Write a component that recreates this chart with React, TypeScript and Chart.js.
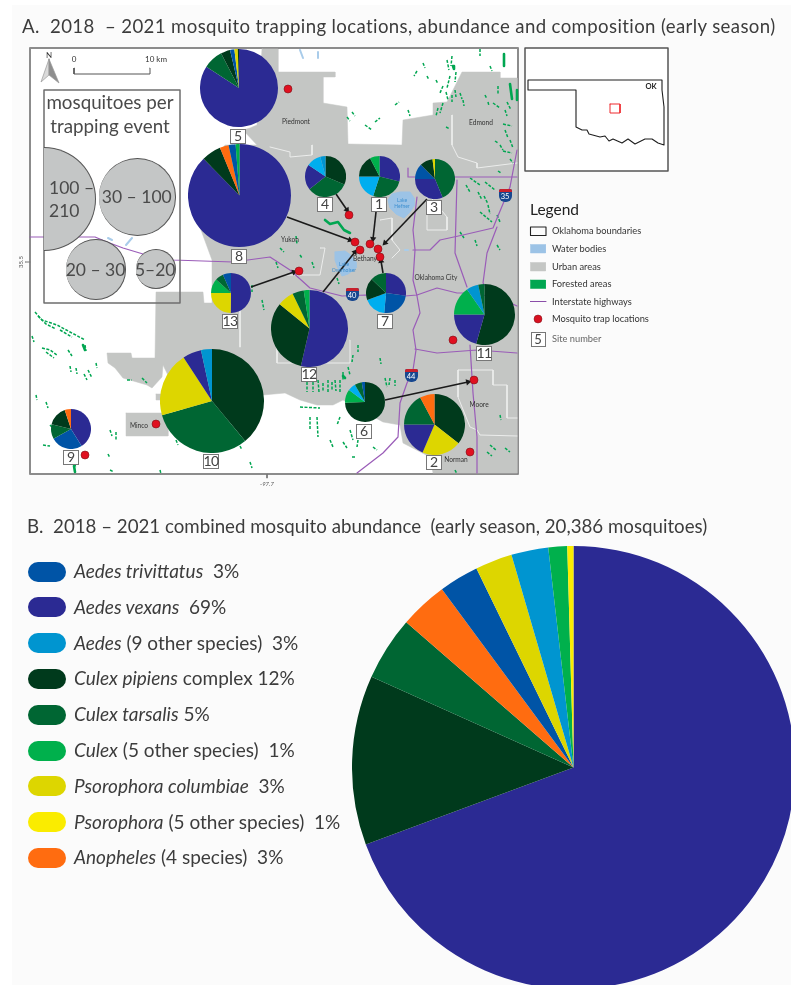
import React, { useEffect, useRef } from "react";
import { Chart, registerables } from "chart.js";
Chart.register(...registerables);

/* ---------- colours ---------- */
const C: Record<string, string> = {
  triv: "#0054A6", vex: "#2B2A93", aed: "#0095D0", sky: "#00AEEF", pip: "#003A1C",
  tar: "#006633", cul: "#00B04C", col: "#DDD600", pso: "#FAEC00", ano: "#FF6C10",
};

/* ---------- panel B ---------- */
const totalKinds = ["vex", "pip", "tar", "ano", "triv", "col", "aed", "cul", "pso"];
const totalShare = [69.35, 12.37, 4.66, 3.5, 2.9, 2.7, 2.7, 1.37, 0.45];

const legendNames: [string, string, string, string][] = [
  ["triv", "Aedes trivittatus", "  ", "3%"],
  ["vex", "Aedes vexans", "  ", "69%"],
  ["aed", "Aedes", " (9 other species)  ", "3%"],
  ["pip", "Culex pipiens", " complex ", "12%"],
  ["tar", "Culex tarsalis", " ", "5%"],
  ["cul", "Culex", " (5 other species)  ", "1%"],
  ["col", "Psorophora columbiae", "  ", "3%"],
  ["pso", "Psorophora", " (5 other species)  ", "1%"],
  ["ano", "Anopheles", " (4 species)  ", "3%"],
];

/* ---------- panel A: site compositions ---------- */
const site1Kinds = ["vex", "tar", "sky", "pip", "cul"];
const site1Share = [28.9, 26.1, 20, 17.4, 7.6];
const site2Kinds = ["pip", "col", "vex", "tar", "ano"];
const site2Share = [35.6, 20.8, 18.6, 17.2, 7.8];
const site3Kinds = ["tar", "vex", "triv", "pip", "col"];
const site3Share = [43.8, 31.2, 12.5, 10.5, 2];
const site4Kinds = ["pip", "tar", "vex", "sky", "aed"];
const site4Share = [31.4, 33, 20, 11.5, 4.1];
const site5Kinds = ["vex", "tar", "pip", "triv", "col", "pip"];
const site5Share = [84.2, 8.2, 3.9, 1.8, 1.4, 0.5];
const site6Kinds = ["pip", "cul", "sky", "tar", "triv"];
const site6Share = [74.4, 10.8, 6.4, 5.8, 2.6];
const site7Kinds = ["vex", "triv", "sky", "pip", "tar"];
const site7Share = [27.2, 24.2, 18, 17.8, 12.8];
const site8Kinds = ["vex", "pip", "ano", "triv", "cul"];
const site8Share = [87.7, 6.1, 2.8, 2.2, 1.2];
const site9Kinds = ["vex", "triv", "tar", "pip", "ano"];
const site9Share = [41.1, 25.8, 11.9, 16.1, 5.1];
const site10Kinds = ["pip", "tar", "col", "vex", "aed"];
const site10Share = [39, 31.6, 20.2, 5.8, 3.4];
const site11Kinds = ["pip", "vex", "cul", "aed", "tar"];
const site11Share = [54.4, 20.6, 15.3, 6.4, 3.3];
const site12Kinds = ["vex", "pip", "col", "tar", "cul"];
const site12Share = [53.6, 32.3, 6.9, 4.8, 2.4];
const site13Kinds = ["vex", "col", "cul", "tar", "triv"];
const site13Share = [50.3, 24.7, 11.7, 6.7, 6.6];

/* [kinds, shares, label, cx, cy, r, labelX, labelY] */
const sites: [string[], number[], string, number, number, number, number, number][] = [
  [site5Kinds, site5Share, "5", 239, 88, 39, 238, 136],
  [site8Kinds, site8Share, "8", 239, 195, 51.5, 239, 256],
  [site4Kinds, site4Share, "4", 325, 176, 20.5, 325, 204],
  [site1Kinds, site1Share, "1", 379.5, 176, 20.5, 379, 204],
  [site3Kinds, site3Share, "3", 435, 179, 20, 434, 207],
  [site13Kinds, site13Share, "13", 231, 293, 20, 230, 321],
  [site7Kinds, site7Share, "7", 386, 293, 20, 385, 321],
  [site12Kinds, site12Share, "12", 309, 328, 38.5, 309, 374],
  [site11Kinds, site11Share, "11", 484.5, 314.5, 30.5, 484, 353],
  [site10Kinds, site10Share, "10", 212, 400.5, 52, 211, 461],
  [site6Kinds, site6Share, "6", 365, 402, 20, 364, 431],
  [site2Kinds, site2Share, "2", 434, 424, 30.5, 434, 462],
  [site9Kinds, site9Share, "9", 71, 429, 20, 71, 457],
];

/* ---------- map geometry (page pixels as map coordinates) ---------- */
type P = [number, number];
const urbanMain: P[] = [[262,49],[278,49],[278,72],[335,72],[335,77],[323,77],[323,103],[347,107],[348,144],[402,145],[403,120],[433,115],[433,103],[447,102],[462,72],[500,72],[500,78],[517,78],[517,473],[433,473],[430,457],[403,443],[400,425],[383,422],[343,400],[333,405],[317,405],[300,400],[285,393],[263,395],[240,420],[190,420],[163,365],[162,377],[152,388],[147,385],[123,378],[115,368],[108,363],[107,353],[131,353],[132,358],[155,358],[156,292],[203,292],[204,303],[212,303],[212,260],[190,200],[225,145],[257,145],[243,130],[250,128],[257,125],[262,49]];
const urbanMinco: P[] = [[126,413],[168,413],[168,436],[126,436],[126,413]];
const urbanSmall: P[] = [[156,394],[162,394],[162,400],[156,400],[156,394]];
const lakeHefner: P[] = [[388,200],[392,194],[400,192],[410,192],[414,198],[414,206],[410,212],[404,218],[396,214],[390,208],[388,200]];
const lakeOverholser: P[] = [[335,252],[345,251],[352,256],[356,262],[356,268],[348,274],[342,276],[338,268],[335,260],[335,252]];
const water: P[][] = [[[108,238],[112,240]],[[126,245],[132,238]],[[65,240],[67,236]],[[405,250],[408,250]],[[300,50],[303,58]],[[318,52],[318,58]]];

const highways: P[][] = [
  [[30,237],[95,237],[107,242],[123,248],[143,254],[173,260],[233,262],[270,257],[290,270],[310,288],[342,296],[366,295],[405,296],[417,295],[437,288],[457,293],[470,293],[500,298],[517,306]],
  [[408,168],[408,177],[517,177]],
  [[417,197],[413,230],[415,250],[413,280],[417,296],[420,313],[413,330],[416,350],[413,370],[407,383],[400,403],[398,437],[383,453],[357,473]],
  [[413,250],[430,250],[440,240],[463,235],[493,228],[510,187],[517,150]],
  [[497,227],[487,253],[483,283],[493,297]],
  [[457,180],[455,253],[467,287]],
  [[470,345],[473,393],[477,437],[477,473]],
  [[415,349],[437,353],[477,350],[517,353]],
];

const cityLines: P[][] = [
  [[452,115],[452,145],[458,157],[477,163],[477,168],[517,163]],
  [[312,145],[312,155],[290,157],[290,152],[270,147]],
  [[427,193],[447,217],[447,230],[427,230],[427,193]],
  [[320,248],[325,248],[320,275],[285,275]],
  [[277,345],[277,363],[350,363],[350,340]],
  [[458,370],[493,370],[493,385],[507,385],[507,418],[517,418]],
  [[458,370],[458,397],[470,427],[477,430],[480,435],[517,436]],
  [[240,303],[240,347]],
  [[380,220],[392,218],[392,240],[400,250],[392,258]],
];

const forestFine: P[][] = [
  [[35,312],[42,320],[57,325],[70,332],[85,340]],[[38,316],[46,324],[56,329]],[[60,330],[72,337]],[[85,345],[86,351]],[[32,336],[34,342]],[[42,348],[50,350],[57,355]],[[46,352],[54,358]],
  [[68,350],[72,356]],[[88,370],[92,378]],[[84,374],[87,380]],[[70,366],[71,372]],[[76,368],[77,374]],[[36,395],[37,400]],[[46,402],[48,408]],
  [[72,455],[76,468]],[[43,445],[50,446]],[[110,430],[112,436]],[[116,432],[116,440]],[[108,454],[110,458]],[[50,425],[53,428]],
  [[142,378],[147,383]],[[127,380],[132,380]],[[96,363],[97,368]],[[160,470],[161,474]],
  /* north-east */
  [[452,56],[451,66]],[[450,76],[447,88]],[[443,86],[440,93]],[[460,93],[462,99]],[[423,63],[425,68]],[[417,71],[414,76]],[[427,76],[429,80]],[[480,49],[480,56]],[[490,66],[492,71]],
  [[498,86],[498,94]],[[493,103],[500,108]],[[443,103],[440,113]],[[446,127],[450,129]],[[503,124],[512,126]],[[495,141],[498,143]],[[503,151],[512,153]],[[510,159],[513,163]],[[498,171],[501,173]],[[488,102],[489,106]],
  [[455,90],[456,97]],[[436,80],[438,84]],[[463,100],[464,106]],[[505,110],[507,116]],[[485,95],[487,99]],
  [[447,60],[449,70]],[[456,72],[455,82]],[[446,92],[448,100]],[[452,95],[452,102]],[[438,108],[436,116]],[[505,130],[508,138]],[[510,140],[513,148]],[[500,145],[503,150]],[[507,102],[511,110]],
  /* centre north */
  [[365,125],[372,130]],[[375,122],[380,118]],[[352,112],[355,116]],[[395,105],[399,102]],[[408,110],[410,116]],[[347,117],[350,121]],
  /* east of OKC */
  [[470,178],[480,185]],[[485,182],[495,190]],[[478,192],[482,200]],[[480,212],[492,222]],[[488,205],[490,214]],[[497,215],[500,222]],[[460,232],[464,238]],[[497,245],[500,250]],[[475,240],[477,246]],[[466,185],[470,192]],[[484,196],[488,204]],
  /* Yukon */
  [[280,248],[284,252]],[[296,236],[297,244]],[[300,255],[302,258]],[[312,262],[314,268]],[[337,278],[339,284]],
  [[259,150],[258,156]],[[262,300],[264,310]],[[252,285],[252,292]],[[276,262],[278,268]],
  /* south band */
  [[348,367],[350,375]],[[307,382],[307,392]],[[313,382],[313,392]],[[318,380],[319,392]],[[323,383],[323,392]],[[328,380],[328,392]],[[332,382],[332,391]],[[335,380],[336,391]],[[340,380],[340,392]],[[343,372],[343,380]],
  [[385,378],[387,387]],[[390,378],[389,385]],[[353,355],[352,362]],[[358,345],[358,352]],[[380,358],[381,364]],[[395,380],[395,386]],
  [[340,417],[337,425]],[[350,430],[353,440]],[[358,440],[357,447]],[[352,457],[355,457]],[[343,442],[347,448]],[[330,440],[333,447]],[[310,417],[310,430]],[[317,417],[318,437]],[[373,447],[377,450]],
  [[300,407],[320,408]],[[412,440],[416,446]],[[490,445],[496,450]],[[487,452],[492,456]],[[505,448],[510,452]],[[455,470],[457,474]],[[500,415],[501,420]],[[440,400],[442,406]],
  [[240,446],[242,450]],[[250,462],[252,468]],[[110,470],[114,472]],[[176,440],[178,445]],
];
const forestThick: P[][] = [
  [[453,66],[454,69]],[[504,54],[504,66]],[[510,84],[512,99]],[[517,90],[517,100]],[[325,220],[330,224],[338,222],[344,230],[350,233]],[[343,376],[345,378]],[[83,345],[85,350]],[[74,466],[75,472]],
];

const arrows: [P, P][] = [
  [[287,217],[350,240]],
  [[336,194],[347,210]],
  [[376,212],[373,239]],
  [[427,199],[385,243]],
  [[383,273],[381,261]],
  [[323,292],[355,252]],
  [[251,287],[294,272]],
  [[385,400],[468,382]],
];

const traps: P[] = [[288,89],[349,215],[355,242],[370,244],[360,250],[378,249],[380,257],[299,271],[156,424],[85,455],[453,340],[474,380],[470,452]];

const oklahoma: P[] = [[528,80],[662,80],[662,90],[664,107],[664,145],[658,143],[652,139],[645,139],[635,144],[628,139],[622,143],[613,139],[609,141],[605,136],[600,137],[589,134],[587,130],[582,130],[576,127],[576,90],[528,90],[528,80]];

const plotRegion = { xMax: 791, yMax: 985 };

type DS = Record<string, unknown>;
const xy = (pts: P[]) => pts.map(([x, y]) => ({ x, y }));
const layer = (pts: P[], color: string, width: number, fill?: string, dash?: number[]): DS => ({
  data: xy(pts), showLine: true, borderColor: color, borderWidth: width, pointRadius: 0,
  tension: 0, fill: fill ? "shape" : false, backgroundColor: fill, borderDash: dash ?? [],
  borderCapStyle: dash ? "butt" : "round", borderJoinStyle: "round",
});
const rect = (x0: number, y0: number, x1: number, y1: number): P[] => [[x0,y0],[x1,y0],[x1,y1],[x0,y1],[x0,y0]];

function mapDatasets(): DS[] {
  const out: DS[] = [];
  out.push(layer(rect(30, 48, 518, 474), "#8C8C8C", 2, "#FFFFFF"));
  out.push(layer(rect(525, 48, 668, 171), "#555555", 1.5, "#FFFFFF"));
  out.push(layer(urbanMain, "#C4C6C4", 0.5, "#C4C6C4"));
  out.push(layer(urbanMinco, "#C4C6C4", 0.5, "#C4C6C4"));
  out.push(layer(urbanSmall, "#C4C6C4", 0.5, "#C4C6C4"));
  cityLines.forEach((l) => out.push(layer(l, "#ECEDEC", 1)));
  out.push(layer(lakeHefner, "#9CC3E6", 1, "#9CC3E6"));
  out.push(layer(lakeOverholser, "#9CC3E6", 1, "#9CC3E6"));
  water.forEach((l) => out.push(layer(l, "#A9CCEA", 2)));
  forestFine.forEach((l) => out.push(layer(l, "#00A651", 1.5, undefined, [3, 1.5])));
  forestThick.forEach((l) => out.push(layer(l, "#00A651", 2.6)));
  highways.forEach((l) => out.push(layer(l, "#9A5CB8", 1.2)));
  out.push(layer(rect(44, 90, 180, 303), "#6E6E6E", 1.5));
  arrows.forEach(([a, b]) => {
    const deg = (Math.atan2(b[1] - a[1], b[0] - a[0]) * 180) / Math.PI + 90;
    out.push({
      data: xy([a, b]), showLine: true, borderColor: "#1A1A1A", borderWidth: 1.6,
      pointStyle: "triangle", pointRotation: deg, pointRadius: [0, 3.6],
      pointBackgroundColor: "#1A1A1A", pointBorderColor: "#1A1A1A", pointBorderWidth: 0,
    });
  });
  out.push({
    data: xy(traps), showLine: false, pointStyle: "circle", pointRadius: 4,
    pointBackgroundColor: "#E01020", pointBorderColor: "#7A1018", pointBorderWidth: 0.6,
  });
  /* north arrow and scale bar */
  out.push(layer([[49,59],[41,82],[49,75],[49,59]], "#999999", 0.7, "#DADADA"));
  out.push(layer([[49,59],[59,83],[49,75],[49,59]], "#999999", 0.7, "#8E8E8E"));
  out.push(layer([[74,68],[74,74],[150,74],[150,68]], "#555555", 1));
  /* graticule ticks */
  out.push(layer([[25,262],[30,262]], "#777777", 1));
  out.push(layer([[267,474],[267,478]], "#777777", 1));
  /* inset */
  out.push(layer(oklahoma, "#1E1E1E", 1.1));
  out.push(layer(rect(610, 104, 620, 113), "#EE2A2E", 1));
  /* legend symbols */
  out.push(layer(rect(530.5, 227, 546, 235.5), "#222222", 1.1));
  out.push(layer(rect(530.5, 244.5, 545.5, 253), "#9CC3E6", 0.5, "#9CC3E6"));
  out.push(layer(rect(530.5, 262.5, 545.5, 271), "#C4C6C4", 0.5, "#C4C6C4"));
  out.push(layer(rect(530.5, 280, 545.5, 288.5), "#00A651", 0.5, "#00A651"));
  out.push(layer([[530,301.5],[546,301.5]], "#8A4DA8", 1));
  out.push({
    data: xy([[538,319]]), showLine: false, pointStyle: "circle", pointRadius: 4,
    pointBackgroundColor: "#D81020", pointBorderColor: "#7A1018", pointBorderWidth: 0.5,
  });
  return out;
}

function MapCanvas() {
  const ref = useRef<HTMLCanvasElement>(null);
  useEffect(() => {
    const sets = mapDatasets().reverse();
    const chart = new Chart(ref.current!, {
      type: "scatter",
      data: { datasets: sets as never },
      options: {
        animation: false, responsive: false,
        layout: { padding: 0, autoPadding: false },
        plugins: { legend: { display: false }, tooltip: { enabled: false } },
        scales: {
          x: { type: "linear", display: false, min: 0, max: plotRegion.xMax },
          y: { type: "linear", display: false, min: 0, max: plotRegion.yMax, reverse: true },
        },
      },
    });
    return () => chart.destroy();
  }, []);
  return <canvas ref={ref} width={791} height={985} style={{ position: "absolute", left: 0, top: 0 }} />;
}

function Pie({ kinds, share, cx, cy, r }: { kinds: string[]; share: number[]; cx: number; cy: number; r: number }) {
  const ref = useRef<HTMLCanvasElement>(null);
  const size = Math.round(r * 2);
  useEffect(() => {
    const chart = new Chart(ref.current!, {
      type: "pie",
      data: {
        labels: kinds,
        datasets: [{ data: share, backgroundColor: kinds.map((k) => C[k]), borderWidth: 0, hoverOffset: 0, offset: 0 }],
      },
      options: {
        animation: false, responsive: false,
        layout: { padding: 0 },
        plugins: { legend: { display: false }, tooltip: { enabled: false } },
      },
    });
    return () => chart.destroy();
  }, []);
  return (
    <canvas ref={ref} width={size} height={size}
      style={{ position: "absolute", left: cx - size / 2, top: cy - size / 2, width: size, height: size }} />
  );
}

const FONT = "Lato, 'Open Sans', sans-serif";
const TXT = "#3C3C3C";

function T({ x, y, s, c = TXT, f = FONT, mid = false, rot, ls, children }: { x: number; y: number; s: number; c?: string; f?: string; mid?: boolean; rot?: number; ls?: number; children: React.ReactNode }) {
  return (
    <div style={{
      position: "absolute", left: x, top: y, fontFamily: f, fontSize: s, color: c, whiteSpace: "pre", lineHeight: 1, letterSpacing: ls,
      transform: `translate(${mid ? "-50%" : "0"},-50%)${rot ? ` rotate(${rot}deg)` : ""}`,
    }}>{children}</div>
  );
}

function Box({ x, y, t, w = 16, h = 15, s = 14 }: { x: number; y: number; t: string; w?: number; h?: number; s?: number }) {
  return (
    <div style={{
      position: "absolute", left: x - w / 2, top: y - h / 2, width: w, height: h, boxSizing: "border-box",
      background: "#FFFFFF", border: "1px solid #777", fontFamily: FONT, fontSize: s, color: "#444",
      display: "flex", alignItems: "center", justifyContent: "center", lineHeight: 1, letterSpacing: t.length > 1 ? -0.6 : 0,
    }}>{t}</div>
  );
}

function Bubble({ x, y, r, half, lines }: { x: number; y: number; r: number; half?: boolean; lines: string[] }) {
  return (
    <div style={{
      position: "absolute", left: half ? x : x - r, top: y - r, width: half ? r : r * 2, height: r * 2, boxSizing: "border-box",
      background: "#C4C6C6", border: "1px solid #555", borderLeft: half ? "none" : undefined,
      borderRadius: half ? `0 ${r}px ${r}px 0` : "50%",
      display: "flex", alignItems: "center", justifyContent: half ? "flex-start" : "center", textAlign: "left", paddingLeft: half ? 5 : 0,
      fontFamily: FONT, fontSize: 17.5, color: "#4A4A4A", lineHeight: "23px", whiteSpace: "pre",
    }}>{lines.join("\n")}</div>
  );
}

function Shield({ x, y, t }: { x: number; y: number; t: string }) {
  return (
    <div style={{
      position: "absolute", left: x - 6.5, top: y - 6.5, width: 13, height: 13, overflow: "hidden",
      background: "#17478F", borderRadius: "2px 2px 6px 6px", color: "#fff", fontFamily: FONT, fontSize: 7.5,
      textAlign: "center", lineHeight: "16px",
    }}>
      <div style={{ position: "absolute", left: 0, top: 0, width: 13, height: 3, background: "#C8202C" }} />
      {t}
    </div>
  );
}

export default function App() {
  return (
    <div style={{ position: "absolute", left: 0, top: 0, width: 791, height: 985, overflow: "hidden", background: "#FFFFFF" }}>
      <div style={{ position: "absolute", left: 12, top: 5, width: 779, height: 980, background: "#FBFBFB" }} />
      <MapCanvas />
      <Bubble x={44} y={199} r={52} half lines={["100 –", "210"]} />
      <Bubble x={137.3} y={197} r={38.7} lines={["30 – 100"]} />
      <Bubble x={96} y={269.5} r={30.2} lines={["20 – 30"]} />
      <Bubble x={155.7} y={269.3} r={20} lines={["5–20"]} />
      {sites.map((s) => <Pie key={s[2]} kinds={s[0]} share={s[1]} cx={s[3]} cy={s[4]} r={s[5]} />)}
      {sites.map((s) => <Box key={s[2]} x={s[6]} y={s[7]} t={s[2]} />)}
      <Pie kinds={totalKinds} share={totalShare} cx={573} cy={767} r={221.5} />

      <T x={22} y={26} s={18.6} ls={0.38}>A.  2018  – 2021 mosquito trapping locations, abundance and composition (early season)</T>
      <T x={27} y={526} s={18.7}>B.  2018 – 2021 combined mosquito abundance  (early season, 20,386 mosquitoes)</T>

      <T x={110} y={102} s={18.8} mid c="#4A4A4A">mosquitoes per</T>
      <T x={110} y={126} s={18.8} mid c="#4A4A4A">trapping event</T>

      <T x={49} y={55} s={8} mid c="#333">N</T>
      <T x={74} y={59} s={8} mid c="#333">0</T>
      <T x={156} y={59} s={8} mid c="#333">10 km</T>
      <T x={21} y={262} s={6} mid rot={-90} c="#555">35.5</T>
      <T x={267} y={484} s={6} mid c="#555"><i>-97.7</i></T>

      {([["Piedmont",296,121],["Edmond",481,122],["Yukon",290,239],["Bethany",365,258],["Oklahoma City",436,277],["Minco",139,425],["Moore",479,404],["Norman",456,459]] as [string,number,number][]).map(([n,x,y]) => (
        <T key={n} x={x} y={y} s={6.6} mid c="#333">{n}</T>
      ))}
      <T x={402} y={200} s={5} mid c="#3C8FD0">Lake</T>
      <T x={402} y={206} s={5} mid c="#3C8FD0">Hefner</T>
      <T x={344} y={264} s={5} mid c="#3C8FD0">Lake</T>
      <T x={344} y={270} s={5} mid c="#3C8FD0">Overholser</T>
      <Shield x={352} y={294} t="40" />
      <Shield x={411} y={375} t="44" />
      <Shield x={505} y={195} t="35" />

      <T x={651} y={87} s={7.5} mid c="#222"><b>OK</b></T>
      <T x={530} y={210} s={15.5} c="#222">Legend</T>
      {([["Oklahoma boundaries",231],["Water bodies",249],["Urban areas",267],["Forested areas",284],["Interstate highways",302],["Mosquito trap locations",319]] as [string,number][]).map(([n,y]) => (
        <T key={n} x={552} y={y} s={9.3} c="#333">{n}</T>
      ))}
      <Box x={538} y={339} t="5" w={15} h={15} s={13} />
      <T x={552} y={339} s={9.3} c="#666">Site number</T>

      {legendNames.map(([k, it, rest, pct], i) => (
        <React.Fragment key={k}>
          <div style={{ position: "absolute", left: 28, top: 561.5 + i * 35.8, width: 38, height: 20, borderRadius: 10, background: C[k] }} />
          <T x={74} y={570 + i * 35.8} s={19}><i>{it}</i>{rest}{pct}</T>
        </React.Fragment>
      ))}
    </div>
  );
}
